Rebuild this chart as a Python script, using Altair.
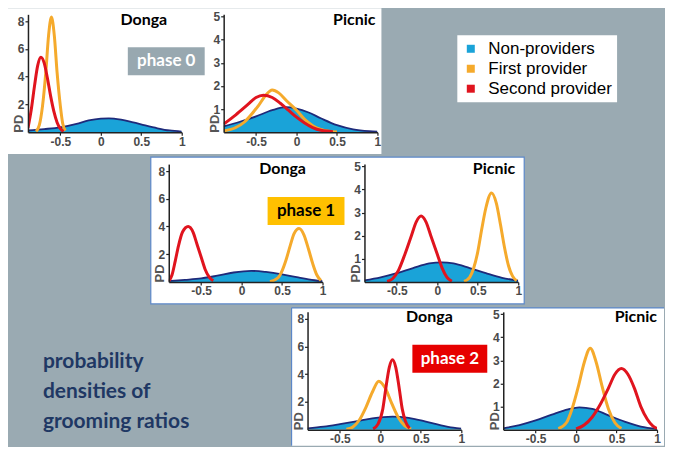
import altair as alt
import pandas as pd

# ---------------- data ----------------
series_names = ["Non-providers", "First provider", "Second provider"]
x_ticks = [-0.5, 0, 0.5, 1]
donga_y_ticks = [2, 4, 6, 8]
picnic_y_ticks = [1, 2, 3, 4, 5]

# phase 0
p0_donga_non = [(-0.9, 0.12), (-0.7, 0.22), (-0.5, 0.35), (-0.3, 0.6), (-0.15, 0.85), (0, 0.98), (0.1, 1.0),
                (0.25, 0.9), (0.4, 0.7), (0.55, 0.48), (0.7, 0.28), (0.85, 0.12), (1.0, 0.04)]
p0_donga_first = [(-0.8, 0.05), (-0.76, 0.5), (-0.72, 1.9), (-0.68, 4.3), (-0.645, 7.0), (-0.61, 8.3),
                  (-0.575, 7.0), (-0.54, 4.3), (-0.5, 1.9), (-0.47, 0.6), (-0.44, 0.1)]
p0_donga_second = [(-0.9, 0.3), (-0.86, 1.6), (-0.82, 3.3), (-0.78, 4.8), (-0.74, 5.4), (-0.7, 5.0),
                   (-0.66, 3.9), (-0.62, 2.6), (-0.58, 1.5), (-0.54, 0.7), (-0.5, 0.25), (-0.46, 0.05)]
p0_picnic_non = [(-0.9, 0.25), (-0.7, 0.45), (-0.5, 0.68), (-0.3, 0.95), (-0.13, 1.08), (0, 1.02), (0.15, 0.85),
                 (0.3, 0.6), (0.5, 0.3), (0.7, 0.12), (0.9, 0.04), (1.0, 0.02)]
p0_picnic_first = [(-0.9, 0.05), (-0.75, 0.2), (-0.64, 0.45), (-0.55, 0.8), (-0.47, 1.15), (-0.38, 1.6),
                   (-0.3, 1.82), (-0.22, 1.7), (-0.12, 1.35), (0, 0.95), (0.1, 0.55), (0.2, 0.28),
                   (0.3, 0.12), (0.4, 0.04), (0.5, 0.01)]
p0_picnic_second = [(-0.9, 0.35), (-0.75, 0.75), (-0.6, 1.2), (-0.5, 1.5), (-0.41, 1.6), (-0.3, 1.5),
                    (-0.2, 1.25), (-0.1, 0.95), (0, 0.65), (0.1, 0.4), (0.2, 0.2), (0.3, 0.08), (0.45, 0.02)]

# phase 1
p1_donga_non = [(-0.9, 0.07), (-0.7, 0.15), (-0.5, 0.25), (-0.3, 0.45), (-0.1, 0.68), (0.12, 0.8), (0.3, 0.72),
                (0.5, 0.55), (0.7, 0.32), (0.9, 0.12), (1.0, 0.05)]
p1_donga_first = [(0.35, 0.02), (0.45, 0.3), (0.5, 0.8), (0.55, 1.6), (0.6, 2.6), (0.65, 3.5), (0.71, 3.85),
                  (0.77, 3.4), (0.83, 2.3), (0.88, 1.3), (0.93, 0.5), (0.98, 0.1)]
p1_donga_second = [(-0.9, 0.05), (-0.86, 0.5), (-0.82, 1.5), (-0.78, 2.6), (-0.73, 3.6), (-0.66, 4.0),
                   (-0.6, 3.6), (-0.55, 2.7), (-0.5, 1.8), (-0.45, 0.9), (-0.4, 0.35), (-0.35, 0.08)]
p1_picnic_non = [(-0.9, 0.07), (-0.7, 0.2), (-0.5, 0.38), (-0.3, 0.6), (-0.1, 0.8), (0.06, 0.85), (0.2, 0.8),
                 (0.4, 0.6), (0.6, 0.38), (0.8, 0.18), (1.0, 0.05)]
p1_picnic_first = [(0.33, 0.02), (0.4, 0.2), (0.45, 0.6), (0.5, 1.3), (0.55, 2.3), (0.6, 3.2), (0.67, 3.85),
                   (0.73, 3.4), (0.78, 2.5), (0.83, 1.5), (0.88, 0.7), (0.93, 0.25), (0.98, 0.05)]
p1_picnic_second = [(-0.62, 0.02), (-0.55, 0.15), (-0.48, 0.5), (-0.4, 1.2), (-0.32, 2.0), (-0.26, 2.6),
                    (-0.2, 2.85), (-0.14, 2.6), (-0.08, 2.0), (0, 1.2), (0.06, 0.6), (0.12, 0.2), (0.18, 0.03)]

# phase 2
p2_donga_non = [(-0.9, 0.1), (-0.7, 0.22), (-0.5, 0.4), (-0.3, 0.6), (-0.1, 0.82), (0.15, 0.95), (0.35, 0.85),
                (0.55, 0.6), (0.75, 0.32), (0.9, 0.15), (1.0, 0.07)]
p2_donga_first = [(-0.42, 0.03), (-0.34, 0.2), (-0.26, 0.7), (-0.18, 1.6), (-0.1, 2.7), (-0.02, 3.5),
                  (0.06, 3.0), (0.14, 1.9), (0.22, 0.9), (0.3, 0.3), (0.38, 0.05)]
p2_donga_second = [(-0.09, 0.06), (-0.03, 0.4), (0.03, 1.5), (0.07, 3.1), (0.11, 4.5), (0.15, 5.05),
                   (0.19, 4.5), (0.23, 3.1), (0.27, 1.5), (0.31, 0.6), (0.36, 0.1)]
p2_picnic_non = [(-0.9, 0.06), (-0.7, 0.2), (-0.5, 0.4), (-0.3, 0.65), (-0.1, 0.88), (0.04, 0.97), (0.2, 0.9),
                 (0.4, 0.62), (0.6, 0.35), (0.8, 0.13), (1.0, 0.03)]
p2_picnic_first = [(-0.22, 0.05), (-0.12, 0.3), (-0.05, 0.9), (0.03, 1.9), (0.1, 2.9), (0.175, 3.53),
                   (0.25, 2.9), (0.32, 1.9), (0.4, 0.9), (0.48, 0.3), (0.56, 0.05)]
p2_picnic_second = [(0, 0.03), (0.1, 0.2), (0.2, 0.55), (0.3, 1.1), (0.4, 1.8), (0.48, 2.4), (0.56, 2.65),
                    (0.64, 2.4), (0.72, 1.8), (0.8, 1.0), (0.88, 0.45), (0.95, 0.15), (1.0, 0.05)]

# ---------------- styling ----------------
BG = "#9aaab2"
BLUE_FILL = "#1aa3d8"
NAVY = "#1e2a7a"
ORANGE = "#f5aa2c"
RED = "#e0141e"
BORDER = "#5b87c8"
W, H = 154, 118

one = pd.DataFrame({"a": [0]})


def df(pairs):
    return pd.DataFrame(pairs, columns=["x", "y"])


def xenc():
    return alt.X("x:Q", scale=alt.Scale(domain=[-0.9, 1.0], nice=False, zero=False),
                 axis=alt.Axis(values=x_ticks, title=None, labelFlush=False, labelOverlap=False, zindex=1,
                               labelExpr="datum.value < 0 ? '-' + format(-datum.value, '~g') : format(datum.value, '~g')"))


def yenc(ymax, ticks):
    return alt.Y("y:Q", scale=alt.Scale(domain=[0, ymax], nice=False, zero=True),
                 axis=alt.Axis(values=ticks, title="PD", titleX=-9, titleY=H, titleAngle=270, zindex=1,
                               titleAlign="left", titleBaseline="middle", labelOverlap=False))


def curves(non, first, second, ymax, ticks):
    x, y = xenc(), yenc(ymax, ticks)
    area = alt.Chart(df(non)).mark_area(color=BLUE_FILL, interpolate="monotone", clip=True).encode(x=x, y=y)
    edge = alt.Chart(df(non)).mark_line(color=NAVY, strokeWidth=1.8, interpolate="monotone", clip=True).encode(x=x, y=y)
    l1 = alt.Chart(df(first)).mark_line(color=ORANGE, strokeWidth=3, interpolate="monotone", clip=True).encode(x=x, y=y)
    l2 = alt.Chart(df(second)).mark_line(color=RED, strokeWidth=3, interpolate="monotone", clip=True).encode(x=x, y=y)
    return [area, edge, l1, l2]


def site_title(text, xpos, align, ypos=10):
    return alt.Chart(one).mark_text(text=text, font="Lato", fontWeight="bold", fontSize=16, color="black",
                                    align=align, baseline="alphabetic").encode(x=alt.value(xpos), y=alt.value(ypos))


def phase_box(label, fill, tcolor, x0, x1):
    box = alt.Chart(one).mark_rect(fill=fill).encode(
        x=alt.value(x0), x2=alt.value(x1), y=alt.value(33), y2=alt.value(61))
    txt = alt.Chart(one).mark_text(text=label, font="Lato", fontWeight="bold", fontSize=17, color=tcolor,
                                   align="center", baseline="middle").encode(
        x=alt.value((x0 + x1) / 2), y=alt.value(47))
    return [box, txt]


def panel_rect(x0, x1, y0, y1, stroke=None):
    kw = dict(fill="white")
    if stroke:
        kw.update(stroke=stroke, strokeWidth=1.2)
    return alt.Chart(one).mark_rect(**kw).encode(
        x=alt.value(x0), x2=alt.value(x1), y=alt.value(y0), y2=alt.value(y1))


def border_rule(x0, x1, y0, y1):
    return alt.Chart(one).mark_rule(color=BORDER, strokeWidth=1.2).encode(
        x=alt.value(x0), x2=alt.value(x1), y=alt.value(y0), y2=alt.value(y1))


# legend (drawn by the library's legend from a hidden layer)
legend_df = pd.DataFrame({"series": series_names})
legend_layer = alt.Chart(legend_df).mark_square(opacity=0, size=1).encode(
    x=alt.value(0), y=alt.value(0),
    color=alt.Color("series:N", sort=series_names,
                    scale=alt.Scale(domain=series_names, range=[BLUE_FILL, ORANGE, RED]),
                    legend=alt.Legend(orient="none", legendX=234, legendY=21, title=None,
                                      symbolType="square", symbolSize=64, symbolOpacity=1,
                                      symbolStrokeWidth=0, labelFont="Liberation Sans",
                                      labelFontSize=17, labelColor="black", labelOffset=9,
                                      fillColor="white", padding=5, rowPadding=2)))

# ---------------- panels ----------------
d0 = alt.layer(
    panel_rect(-20, 354, -6, 140),
    *phase_box("phase 0", "#98a8b0", "white", 100, 177),
    *curves(p0_donga_non, p0_donga_first, p0_donga_second, 8.5, donga_y_ticks),
    site_title("Donga", 116, "center", 11),
).properties(width=W, height=H)

p0 = alt.layer(
    *curves(p0_picnic_non, p0_picnic_first, p0_picnic_second, 5.1, picnic_y_ticks),
    site_title("Picnic", 152, "right", 11),
    legend_layer,
).properties(width=W, height=H)

d1 = alt.layer(
    panel_rect(-18, 356, -7, 140, stroke=BORDER),
    *phase_box("phase 1", "#ffc000", "black", 99, 176),
    *curves(p1_donga_non, p1_donga_first, p1_donga_second, 8.5, donga_y_ticks),
    site_title("Donga", 114, "center"),
).properties(width=W, height=H)

p1 = alt.layer(
    *curves(p1_picnic_non, p1_picnic_first, p1_picnic_second, 5.1, picnic_y_ticks),
    site_title("Picnic", 151, "right"),
).properties(width=W, height=H)

d2 = alt.layer(
    panel_rect(-16, 357, -4, 134),
    border_rule(-16, 357, -4, -4),
    border_rule(-16, -16, -4, 134),
    *phase_box("phase 2", "#e60000", "white", 105, 180),
    *curves(p2_donga_non, p2_donga_first, p2_donga_second, 8.5, donga_y_ticks),
    site_title("Donga", 122, "center"),
).properties(width=W, height=H)

p2 = alt.layer(
    *curves(p2_picnic_non, p2_picnic_first, p2_picnic_second, 5.1, picnic_y_ticks),
    site_title("Picnic", 154, "right"),
).properties(width=W, height=H)

spacer1 = alt.Chart(one).mark_text(text="").encode(x=alt.value(0), y=alt.value(0)).properties(width=99, height=H)
note = alt.Chart(one).mark_text(
    text="probability\ndensities of\ngrooming ratios", lineBreak="\n", lineHeight=30,
    font="Lato", fontWeight="bold", fontSize=21, color="#1f3864", align="left", baseline="alphabetic"
).encode(x=alt.value(15), y=alt.value(56)).properties(width=238, height=H)


def row(*cells):
    return alt.hconcat(*cells, spacing=42, bounds="flush").resolve_scale(
        color="independent").resolve_legend(color="independent")


chart = alt.vconcat(
    row(d0, p0),
    row(spacer1, d1, p1),
    row(note, d2, p2),
    spacing=2, bounds="full", padding=0,
).resolve_scale(color="independent").resolve_legend(color="independent").configure(
    background=BG
).configure_view(stroke=None).configure_axis(
    grid=False, labelFont="Liberation Sans", labelFontWeight="bold", labelFontSize=12,
    labelColor="#4a4a4a", titleFont="Liberation Sans", titleFontWeight="bold", titleFontSize=13,
    titleColor="#555555", domainColor="#222222", domainWidth=1.5, tickColor="#222222",
    tickSize=3, tickWidth=1.2, labelPadding=1
)

chart.save("out.html", embed_options={"renderer": "svg", "actions": False})
